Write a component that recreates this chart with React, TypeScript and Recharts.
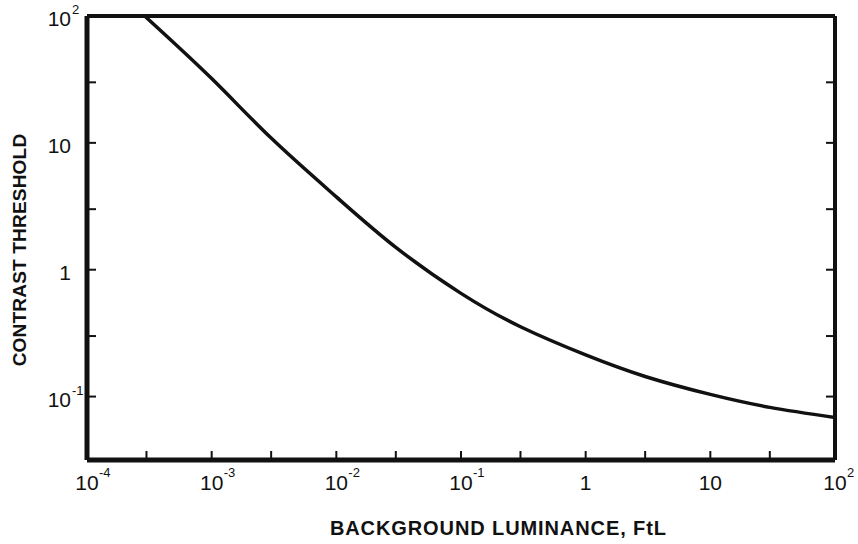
import React from "react";
import { Line, LineChart, XAxis, YAxis, Label } from "recharts";

// background luminance (FtL) and the contrast threshold
const luminance = [0.00029, 0.001, 0.003, 0.01, 0.03, 0.1, 0.3, 1, 3, 10, 30, 100];
const threshold = [100, 32.1, 10.9, 3.75, 1.5, 0.651, 0.355, 0.213, 0.144, 0.104, 0.0822, 0.0684];

const xTicks = [1e-4, 3e-4, 1e-3, 3e-3, 1e-2, 3e-2, 1e-1, 3e-1, 1, 3, 10, 30, 100];
const xTickLabels: ([string, string] | null)[] = [
  ["10", "-4"], null, ["10", "-3"], null, ["10", "-2"], null,
  ["10", "-1"], null, ["1", ""], null, ["10", ""], null, ["10", "2"],
];
const yTicks = [0.1, 0.3, 1, 3, 10, 30, 100];
const yTickLabels: ([string, string] | null)[] = [
  ["10", "-1"], null, ["1", ""], null, ["10", ""], null, ["10", "2"],
];

const xDomain = [1e-4, 100];
const yDomain = [0.03162, 100];

const chartData = luminance.map((lum, i) => ({ lum, threshold: threshold[i] }));

const FONT = "'Liberation Sans', Arial, sans-serif";
const INK = "#111";

const findLabel = (ticks: number[], labels: ([string, string] | null)[], value: number) => {
  const i = ticks.findIndex((t) => Math.abs(Math.log10(t) - Math.log10(value)) < 1e-6);
  return i >= 0 ? labels[i] : null;
};

function BottomTick(props: any) {
  const { x, y, payload } = props;
  const label = findLabel(xTicks, xTickLabels, payload.value);
  return (
    <g>
      <line x1={x} y1={y} x2={x} y2={y - 9} stroke={INK} strokeWidth={2} />
      {label && (
        <>
          <text x={x} y={y + 30} textAnchor="middle" fontFamily={FONT} fontSize={21} fill={INK}>
            {label[0]}
          </text>
          {label[1] && (
            <text x={x + 12} y={y + 17} textAnchor="start" fontFamily={FONT} fontSize={13} fill={INK}>
              {label[1]}
            </text>
          )}
        </>
      )}
    </g>
  );
}

function TopTick(props: any) {
  const { x, y } = props;
  return <line x1={x} y1={y} x2={x} y2={y + 9} stroke={INK} strokeWidth={2} />;
}

function LeftTick(props: any) {
  const { x, y, payload } = props;
  const label = findLabel(yTicks, yTickLabels, payload.value);
  return (
    <g>
      <line x1={x} y1={y} x2={x + 9} y2={y} stroke={INK} strokeWidth={2} />
      {label && (
        <>
          <text x={x - 16} y={y + 10} textAnchor="end" fontFamily={FONT} fontSize={21} fill={INK}>
            {label[0]}
          </text>
          {label[1] && (
            <text x={x - 15} y={y - 2} textAnchor="start" fontFamily={FONT} fontSize={13} fill={INK}>
              {label[1]}
            </text>
          )}
        </>
      )}
    </g>
  );
}

function RightTick(props: any) {
  const { x, y } = props;
  return <line x1={x} y1={y} x2={x - 9} y2={y} stroke={INK} strokeWidth={2} />;
}

function XTitle(props: any) {
  const { viewBox } = props;
  return (
    <text
      x={viewBox.x + viewBox.width * 0.55}
      y={viewBox.y + 75}
      textAnchor="middle"
      fontFamily={FONT}
      fontWeight="bold"
      fontSize={20}
      letterSpacing={0.9}
      fill={INK}
    >
      BACKGROUND LUMINANCE, FtL
    </text>
  );
}

function YTitle(props: any) {
  const { viewBox } = props;
  const cx = 19;
  const cy = viewBox.y + viewBox.height / 2 + 12;
  return (
    <text
      x={cx}
      y={cy}
      transform={`rotate(-90, ${cx}, ${cy})`}
      textAnchor="middle"
      dominantBaseline="central"
      fontFamily={FONT}
      fontWeight="bold"
      fontSize={19}
      letterSpacing={0.2}
      fill={INK}
    >
      CONTRAST THRESHOLD
    </text>
  );
}

export default function App() {
  const axisLine = { stroke: INK, strokeWidth: 4 };
  const thickLine = { stroke: INK, strokeWidth: 5 };
  return (
    <div style={{ position: "absolute", left: 0, top: 0, width: 858, height: 544, background: "#fff" }}>
      <LineChart
        width={858}
        height={544}
        data={chartData}
        margin={{ top: 6, right: 13, bottom: 54, left: 57 }}
      >
        <XAxis
          dataKey="lum"
          type="number"
          scale="log"
          domain={xDomain}
          ticks={xTicks}
          interval={0}
          allowDataOverflow
          height={30}
          tickSize={0}
          tickMargin={0}
          tickLine={false}
          axisLine={thickLine}
          tick={BottomTick}
        >
          <Label content={XTitle} />
        </XAxis>
        <XAxis
          xAxisId="top"
          orientation="top"
          type="number"
          scale="log"
          domain={xDomain}
          ticks={xTicks}
          interval={0}
          allowDataOverflow
          height={10}
          tickSize={0}
          tickMargin={0}
          tickLine={false}
          axisLine={axisLine}
          tick={TopTick}
        />
        <YAxis
          type="number"
          scale="log"
          domain={yDomain}
          ticks={yTicks}
          interval={0}
          allowDataOverflow
          width={30}
          tickSize={0}
          tickMargin={0}
          tickLine={false}
          axisLine={thickLine}
          tick={LeftTick}
        >
          <Label content={YTitle} />
        </YAxis>
        <YAxis
          yAxisId="right"
          orientation="right"
          type="number"
          scale="log"
          domain={yDomain}
          ticks={yTicks}
          interval={0}
          allowDataOverflow
          width={10}
          tickSize={0}
          tickMargin={0}
          tickLine={false}
          axisLine={axisLine}
          tick={RightTick}
        />
        <Line
          type="natural"
          dataKey="threshold"
          stroke={INK}
          strokeWidth={3.5}
          dot={false}
          activeDot={false}
          isAnimationActive={false}
        />
      </LineChart>
    </div>
  );
}
